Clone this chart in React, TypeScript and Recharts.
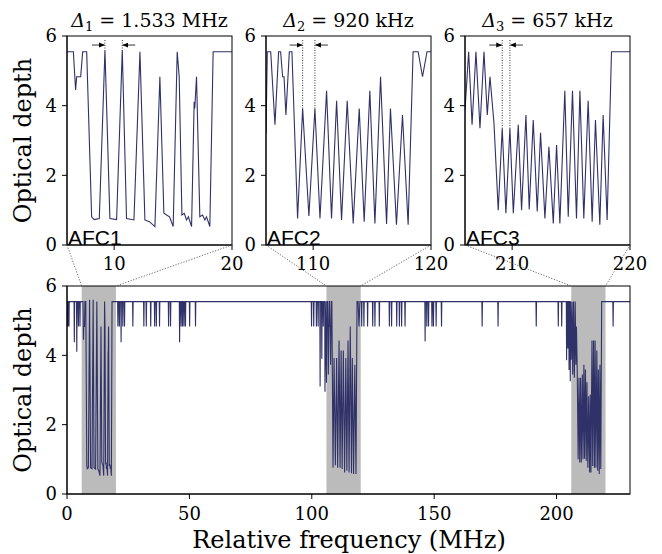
import { LineChart, Line, XAxis, YAxis, ReferenceArea } from "recharts";

// optical depth plateau (saturated)
const baseOD = 5.55;

// AFC1 comb, 6-20 MHz
const afc1Freq = [6.0, 6.54, 6.73, 6.82, 7.16, 7.33, 7.67, 8.09, 8.3, 8.74, 9.22, 9.64, 10.21, 10.69, 11.05, 11.68, 12.19, 12.61, 12.99, 13.46, 13.88, 14.22, 14.45, 14.7, 15.01, 15.35, 15.52, 15.75, 15.95, 16.14, 16.3, 16.57, 16.79, 16.84, 16.99, 17.27, 17.5, 17.7, 17.84, 18.12, 18.4, 20.0];
const afc1OD = [5.55, 5.55, 4.45, 4.83, 4.83, 5.55, 5.55, 0.81, 0.73, 0.76, 5.6, 0.76, 0.73, 5.6, 0.76, 0.72, 5.55, 0.72, 0.67, 0.53, 4.83, 0.91, 0.86, 0.81, 0.53, 5.55, 4.83, 0.86, 0.91, 0.72, 0.81, 0.53, 4.11, 3.92, 4.83, 0.81, 0.86, 0.72, 0.81, 0.53, 5.55, 5.55];

// AFC2 comb, 106-120 MHz
const afc2Freq = [106.0, 106.11, 106.4, 106.76, 107.07, 107.24, 107.41, 107.53, 107.69, 107.98, 108.2, 108.68, 109.11, 109.64, 110.15, 110.58, 111.14, 111.56, 111.99, 112.41, 112.89, 113.4, 113.91, 114.33, 114.81, 115.24, 115.72, 116.23, 116.56, 117.07, 117.58, 118.06, 118.48, 118.91, 119.28, 119.66, 120.0];
const afc2OD = [3.21, 5.55, 5.55, 3.45, 5.55, 5.55, 4.83, 4.83, 3.73, 5.55, 5.55, 0.76, 3.92, 0.83, 3.92, 0.76, 4.43, 0.76, 4.14, 0.72, 4.14, 0.62, 3.92, 0.67, 4.43, 0.62, 4.83, 0.6, 3.92, 0.58, 3.73, 0.58, 5.55, 5.55, 4.83, 5.55, 5.55];

// AFC3 comb, 206-220 MHz
const afc3Freq = [206.0, 206.31, 206.6, 206.93, 207.27, 207.61, 207.89, 208.12, 208.46, 208.82, 209.16, 209.47, 209.81, 210.1, 210.52, 210.8, 211.17, 211.45, 211.79, 212.13, 212.41, 212.78, 213.12, 213.49, 213.77, 214.05, 214.47, 214.76, 215.12, 215.46, 215.75, 216.08, 216.45, 216.79, 217.07, 217.44, 217.72, 218.06, 218.43, 220.0];
const afc3OD = [3.87, 5.55, 3.45, 5.55, 3.35, 5.55, 3.73, 4.83, 3.49, 1.0, 3.35, 0.91, 3.35, 0.91, 3.45, 1.0, 3.73, 1.02, 3.59, 0.96, 3.22, 0.76, 2.82, 0.62, 2.87, 0.62, 4.43, 0.81, 4.43, 0.76, 4.43, 0.76, 4.14, 0.67, 3.59, 0.58, 3.73, 0.72, 5.55, 5.55];

// narrow spectral holes outside the combs (full spectrum)
const bgDipFreq = [0.15, 0.45, 0.8, 3.0, 4.0, 4.65, 5.3, 20.8, 21.4, 22.1, 22.8, 23.5, 26.9, 31.4, 32.4, 34.2, 35.8, 36.5, 37.8, 41.5, 42.3, 46.0, 46.6, 47.2, 47.8, 48.4, 50.1, 52.5, 99.9, 100.8, 101.9, 102.6, 103.4, 104.1, 104.7, 105.4, 120.4, 121.3, 122.8, 124.9, 125.8, 127.6, 131.7, 132.6, 134.7, 135.8, 136.7, 138.1, 146.3, 147.0, 147.7, 149.1, 149.7, 150.8, 153.0, 169.6, 176.1, 191.7, 200.7, 202.1, 204.1, 204.6, 205.1, 205.6, 223.1];
const bgDipOD = [4.83, 4.83, 4.83, 4.38, 4.1, 4.83, 4.83, 4.83, 4.83, 4.38, 4.83, 4.83, 4.83, 4.83, 4.83, 4.83, 4.83, 4.83, 4.83, 4.83, 4.83, 4.38, 4.83, 4.83, 4.83, 4.83, 4.83, 4.83, 4.83, 4.83, 4.83, 4.83, 3.1, 3.9, 4.83, 2.95, 4.83, 4.83, 4.83, 4.83, 4.83, 4.83, 4.83, 4.83, 4.83, 4.83, 4.83, 4.83, 4.4, 4.83, 4.83, 4.83, 4.83, 4.83, 4.83, 4.83, 4.83, 4.83, 4.83, 4.83, 3.86, 4.2, 3.58, 3.25, 4.83];

const insetDomains = [[6, 20], [106, 120], [206, 220]];
const insetTicks = [[10, 20], [110, 120], [210, 220]];
const insetNames = ["AFC1", "AFC2", "AFC3"];
const deltaSub = ["1", "2", "3"];
const deltaText = ["1.533 MHz", "920 kHz", "657 kHz"];
const spacingMarks = [[9.22, 10.69], [109.11, 110.15], [209.16, 209.81]];
const yTicks = [0, 2, 4, 6];
const mainTicks = [0, 50, 100, 150, 200];
const mainDomain = [0, 230];

const LINE = "#2f3168";
const BAND = "#bbbbbb";
const SERIF = "DejaVu Serif, serif";

// layout (page pixels of the plot areas)
const INSET_TOP = 36;
const INSET_H = 209;
const INSET_W = 165;
const INSET_LEFTS = [67, 266, 465];
const MAIN = { left: 67, top: 286, w: 563, h: 208 };
const AXW = 40;
const MT = 14;
const MR = 22;
const AXH = 34;

const zip = (fs: number[], ods: number[]) => fs.map((f, i) => ({ f, od: ods[i] }));
const afcData = [zip(afc1Freq, afc1OD), zip(afc2Freq, afc2OD), zip(afc3Freq, afc3OD)];

const bgPts: { f: number; od: number }[] = [{ f: mainDomain[0], od: baseOD }];
bgDipFreq.forEach((f, i) => {
  bgPts.push({ f: f - 0.12, od: baseOD }, { f, od: bgDipOD[i] }, { f: f + 0.12, od: baseOD });
});
bgPts.push({ f: mainDomain[1], od: baseOD });
const fullData = [...bgPts, ...afcData.flat()].sort((a, b) => a.f - b.f);

const tickFont = { fill: "#000", fontSize: 18, fontFamily: SERIF };

interface PanelProps {
  data: { f: number; od: number }[];
  left: number;
  top: number;
  w: number;
  h: number;
  domain: number[];
  ticks: number[];
  bands?: number[][];
  gap: number;
}

const Panel = (p: PanelProps) => {
  return (
    <div style={{ position: "absolute", left: p.left - AXW, top: p.top - MT }}>
      <LineChart width={AXW + p.w + MR} height={MT + p.h + AXH} data={p.data} margin={{ top: MT, right: MR, left: 0, bottom: 0 }}>
        {p.bands?.map((b, i) => (
          <ReferenceArea key={i} x1={b[0]} x2={b[1]} y1={0} y2={6} fill={BAND} fillOpacity={1} stroke="none" />
        ))}
        <XAxis
          dataKey="f"
          type="number"
          domain={p.domain}
          ticks={p.ticks}
          interval={0}
          allowDataOverflow
          height={AXH}
          tick={tickFont}
          tickSize={5}
          tickMargin={p.gap}
          axisLine={{ stroke: "#000" }}
          tickLine={{ stroke: "#000" }}
        />
        <YAxis
          type="number"
          domain={[0, 6]}
          ticks={yTicks}
          interval={0}
          allowDataOverflow
          width={AXW}
          tick={tickFont}
          tickSize={5}
          tickMargin={5}
          axisLine={{ stroke: "#000" }}
          tickLine={{ stroke: "#000" }}
        />
        <Line dataKey="od" type="linear" stroke={LINE} strokeWidth={1.1} dot={false} isAnimationActive={false} />
      </LineChart>
    </div>
  );
};

const sxInset = (i: number, f: number) =>
  INSET_LEFTS[i] + ((f - insetDomains[i][0]) / (insetDomains[i][1] - insetDomains[i][0])) * INSET_W;
const syInset = (od: number) => INSET_TOP + INSET_H - (od / 6) * INSET_H;
const sxMain = (f: number) => MAIN.left + ((f - mainDomain[0]) / (mainDomain[1] - mainDomain[0])) * MAIN.w;

export default function App() {
  return (
    <div style={{ position: "absolute", left: 0, top: 0, width: 662, height: 554, background: "#fff" }}>
      {afcData.map((d, i) => (
        <Panel key={i} data={d} left={INSET_LEFTS[i]} top={INSET_TOP} w={INSET_W} h={INSET_H} domain={insetDomains[i]} ticks={insetTicks[i]} gap={7} />
      ))}
      <Panel data={fullData} left={MAIN.left} top={MAIN.top} w={MAIN.w} h={MAIN.h} domain={mainDomain} ticks={mainTicks} bands={insetDomains} gap={8} />

      <svg width={662} height={554} style={{ position: "absolute", left: 0, top: 0, pointerEvents: "none" }}>
        <defs>
          <marker id="ah" markerWidth="6" markerHeight="6" refX="5.5" refY="3" orient="auto" markerUnits="userSpaceOnUse">
            <path d="M0,0.5 L6,3 L0,5.5 z" fill="#000" />
          </marker>
        </defs>
        {/* frames */}
        {INSET_LEFTS.map((l, i) => (
          <rect key={i} x={l} y={INSET_TOP} width={INSET_W} height={INSET_H} fill="none" stroke="#000" strokeWidth={1} />
        ))}
        <rect x={MAIN.left} y={MAIN.top} width={MAIN.w} height={MAIN.h} fill="none" stroke="#000" strokeWidth={1} />

        {/* connectors from insets to bands */}
        {INSET_LEFTS.map((l, i) => (
          <g key={i} stroke="#444" strokeWidth={0.8} strokeDasharray="1.2 1.6">
            <line x1={l} y1={INSET_TOP + INSET_H} x2={sxMain(insetDomains[i][0])} y2={MAIN.top} />
            <line x1={l + INSET_W} y1={INSET_TOP + INSET_H} x2={sxMain(insetDomains[i][1])} y2={MAIN.top} />
          </g>
        ))}

        {/* spacing markers */}
        {spacingMarks.map((pair, i) => {
          const peak = (f: number) => afcData[i].find((p) => p.f === f)?.od ?? baseOD;
          const xa = sxInset(i, pair[0]);
          const xb = sxInset(i, pair[1]);
          const ya = syInset(5.74);
          return (
            <g key={i}>
              <line x1={xa} y1={INSET_TOP + 4} x2={xa} y2={syInset(peak(pair[0]))} stroke="#000" strokeWidth={0.8} strokeDasharray="1 1.5" />
              <line x1={xb} y1={INSET_TOP + 4} x2={xb} y2={syInset(peak(pair[1]))} stroke="#000" strokeWidth={0.8} strokeDasharray="1 1.5" />
              <line x1={xa - 13} y1={ya} x2={xa - 0.5} y2={ya} stroke="#000" strokeWidth={0.8} markerEnd="url(#ah)" />
              <line x1={xb + 13} y1={ya} x2={xb + 0.5} y2={ya} stroke="#000" strokeWidth={0.8} markerEnd="url(#ah)" />
            </g>
          );
        })}

        {/* titles */}
        {INSET_LEFTS.map((l, i) => (
          <text key={i} x={l + INSET_W / 2} y={27} textAnchor="middle" fontFamily={SERIF} fontSize={19} fill="#000" style={{ whiteSpace: "pre" }}>
            <tspan fontStyle="italic">Δ</tspan>
            <tspan fontSize={13} dy={4}>{deltaSub[i]}</tspan>
            <tspan dy={-4}>{" = " + deltaText[i]}</tspan>
          </text>
        ))}

        {/* comb names */}
        {INSET_LEFTS.map((l, i) => (
          <text key={i} x={l + 1} y={INSET_TOP + INSET_H} fontFamily="Liberation Sans, Arial, sans-serif" fontSize={21} fill="#000">
            {insetNames[i]}
          </text>
        ))}

        {/* axis labels */}
        <text transform={`translate(31, ${INSET_TOP + INSET_H / 2}) rotate(-90)`} textAnchor="middle" fontFamily={SERIF} fontSize={24} fill="#000">
          Optical depth
        </text>
        <text transform={`translate(31, ${MAIN.top + MAIN.h / 2}) rotate(-90)`} textAnchor="middle" fontFamily={SERIF} fontSize={24} fill="#000">
          Optical depth
        </text>
        <text x={349} y={548} textAnchor="middle" fontFamily={SERIF} fontSize={24} fill="#000">
          Relative frequency (MHz)
        </text>
      </svg>
    </div>
  );
}
